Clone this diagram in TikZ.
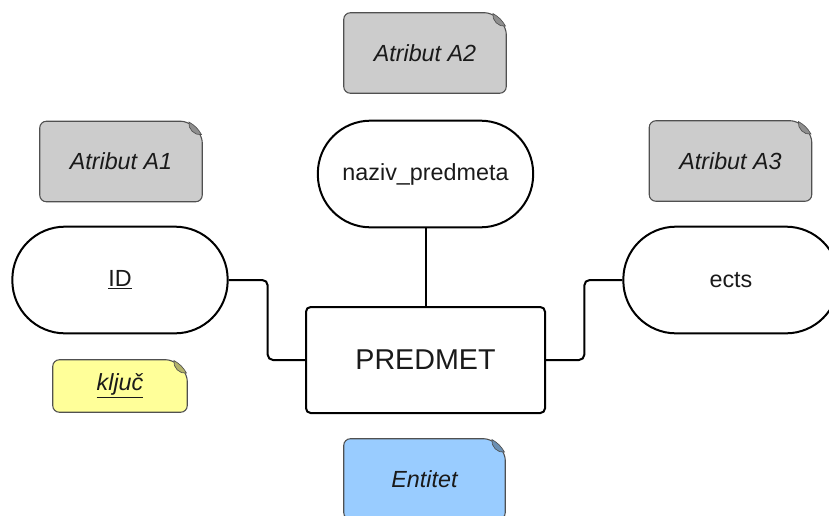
\documentclass[tikz,border=0pt]{standalone}
\usepackage{fontspec}
\setmainfont{Liberation Sans}
\usetikzlibrary{backgrounds}
\definecolor{sivaBiljeska}{HTML}{CCCCCC}
\definecolor{zutaBiljeska}{HTML}{FFFF99}
\definecolor{plavaBiljeska}{HTML}{99CCFF}
\definecolor{rubBiljeske}{HTML}{505050}
\definecolor{tekst}{HTML}{1A1A1A}
% biljeska sa savijenim kutom (ime cvora, boja)
\newcommand{\savijeniKut}[2]{
\begin{pgfonlayer}{background}
\filldraw[fill=#2, draw=rubBiljeske, line width=0.8pt, rounded corners=5pt] (#1.south west) -- (#1.north west) -- ([xshift=-11pt]#1.north east) -- ([yshift=-11pt]#1.north east) -- (#1.south east) -- cycle;
\filldraw[fill=#2!70!black, draw=rubBiljeske, line width=0.5pt] ([xshift=-10pt,yshift=-0.6pt]#1.north east) to[bend right=55] ([xshift=-0.6pt,yshift=-10pt]#1.north east) to[bend right=15] cycle;
\end{pgfonlayer}
}

\begin{document}
\begin{tikzpicture}[x=0.75pt, y=-0.75pt,
    atribut/.style = {draw, line width=1.5pt, rounded corners=39.5pt, minimum width=161.5pt, minimum height=80pt, font=\fontsize{17.5}{21}\selectfont, text=tekst},
    entitet/.style = {draw, line width=1.5pt, rounded corners=3.5pt, minimum width=179.25pt, minimum height=79.5pt, font=\fontsize{21.5}{26}\selectfont, text=tekst},
    biljeska/.style = {minimum width=121.5pt, minimum height=60pt, font=\fontsize{17.5}{21}\selectfont\itshape, text=tekst},
    veza/.style = {line width=1.5pt, rounded corners=4pt}]
    % Okvir
    \useasboundingbox (0,0) rectangle (829,515);
    \clip (0,0) rectangle (829,515);
    % Atributi
    \node[atribut] (naziv) at (425.5,174){naziv\_predmeta};
    \node[atribut] (id) at (120,280){\underline{ID}};
    \node[atribut] (ects) at (731,280){ects};
    % Entitet
    \node[entitet] (predmet) at (425.5,360){PREDMET};
    % Veze
    \draw[veza] (naziv.south) -- (predmet.north);
    \draw[veza] (id.east) -- ++(39,0) |- (predmet.west);
    \draw[veza] (ects.west) -- ++(-38,0) |- (predmet.east);
    % Biljeske
    \node[biljeska] (bA2) at (425,53){Atribut A2};
    \savijeniKut{bA2}{sivaBiljeska}
    \node[biljeska] (bA1) at (121,161.5){Atribut A1};
    \savijeniKut{bA1}{sivaBiljeska}
    \node[biljeska] (bA3) at (730.5,161){Atribut A3};
    \savijeniKut{bA3}{sivaBiljeska}
    \node[biljeska, minimum width=100.5pt, minimum height=39pt] (kljuc) at (120,386){\underline{ključ}};
    \savijeniKut{kljuc}{zutaBiljeska}
    \node[biljeska, minimum width=120.75pt] (bEntitet) at (424.5,479){Entitet};
    \savijeniKut{bEntitet}{plavaBiljeska}
\end{tikzpicture}
\end{document}
